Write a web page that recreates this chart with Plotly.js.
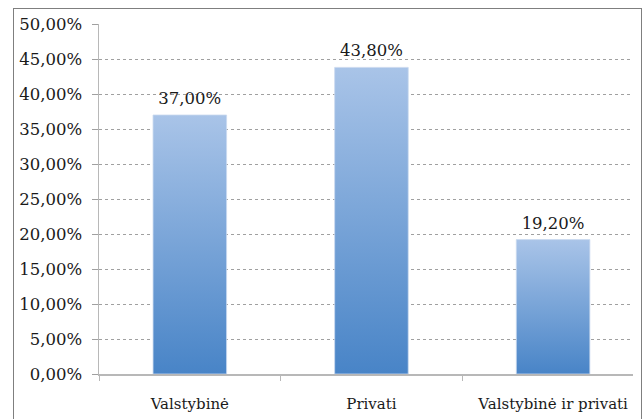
<!DOCTYPE html>
<html>
<head>
<meta charset="utf-8">
<script src="https://cdn.plot.ly/plotly-3.0.1.min.js"></script>
<style>
html,body{margin:0;padding:0;background:#fff;}
#wrap{position:relative;width:644px;height:419px;}
#chart{width:644px;height:419px;}
#frame{position:absolute;left:13px;top:8px;width:627px;height:420px;border:1.5px solid #7f7f7f;pointer-events:none;}
</style>
</head>
<body>
<div id="wrap"><div id="chart"></div><div id="frame"></div></div>
<script>
const categories = ["Valstybinė", "Privati", "Valstybinė ir privati"];
const values = [0.37, 0.438, 0.192];
const yTicks = [0, 0.05, 0.10, 0.15, 0.20, 0.25, 0.30, 0.35, 0.40, 0.45, 0.50];

const serif = "DejaVu Serif, Liberation Serif, serif";

const trace = {
  type: "bar",
  x: categories,
  y: values,
  width: 0.405,
  marker: {color: "#7aa3d8", line: {width: 0}},
  texttemplate: "%{y:.2%}",
  textposition: "outside",
  cliponaxis: false,
  textfont: {family: serif, size: 16.5, color: "#1a1a1a"},
  hoverinfo: "none"
};

const layout = {
  width: 644, height: 419,
  margin: {l: 99, r: 11, t: 24, b: 45},
  paper_bgcolor: "#fff", plot_bgcolor: "#fff",
  separators: ", ",
  showlegend: false,
  font: {family: serif, size: 15, color: "#1a1a1a"},
  xaxis: {
    type: "category",
    range: [-0.5, 2.44],
    tickson: "boundaries",
    ticks: "outside", ticklen: 5, tickcolor: "#b8b8b8", tickwidth: 1,
    showline: true, linecolor: "#b8b8b8", linewidth: 1.5,
    showgrid: false,
    ticklabelstandoff: 15,
    tickfont: {family: serif, size: 15, color: "#1a1a1a"}
  },
  yaxis: {
    range: [0, 0.5],
    tickvals: yTicks,
    tickformat: ".2%",
    ticks: "outside", ticklen: 6, tickcolor: "#a0a0a0",
    showline: true, linecolor: "#b8b8b8", linewidth: 1.5,
    showgrid: true, gridcolor: "#a0a0a0", griddash: "3px,3px", gridwidth: 1,
    zeroline: false,
    ticklabelstandoff: 6,
    tickfont: {family: serif, size: 16.5, color: "#1a1a1a"}
  }
};

Plotly.newPlot("chart", [trace], layout, {displayModeBar: false, staticPlot: true}).then(function(gd){
  const svg = gd.querySelector("svg.main-svg");
  const ns = "http://www.w3.org/2000/svg";
  let defs = svg.querySelector("defs");
  const lg = document.createElementNS(ns, "linearGradient");
  lg.setAttribute("id", "barGrad");
  lg.setAttribute("x1", "0"); lg.setAttribute("y1", "0");
  lg.setAttribute("x2", "0"); lg.setAttribute("y2", "1");
  const s1 = document.createElementNS(ns, "stop");
  s1.setAttribute("offset", "0"); s1.setAttribute("stop-color", "#a9c4e8");
  const s2 = document.createElementNS(ns, "stop");
  s2.setAttribute("offset", "1"); s2.setAttribute("stop-color", "#4884c7");
  lg.appendChild(s1); lg.appendChild(s2);
  defs.appendChild(lg);
  gd.querySelectorAll(".bars .point path").forEach(function(p){
    p.style.fill = "url(#barGrad)";
    p.style.stroke = "#c9d9ef";
    p.style.strokeWidth = "0.8px";
  });
  gd.querySelectorAll(".bars .point text").forEach(function(t){
    const tr = t.getAttribute("transform") || "";
    t.setAttribute("transform", tr + " translate(0,-4)");
  });
});
</script>
</body>
</html>
